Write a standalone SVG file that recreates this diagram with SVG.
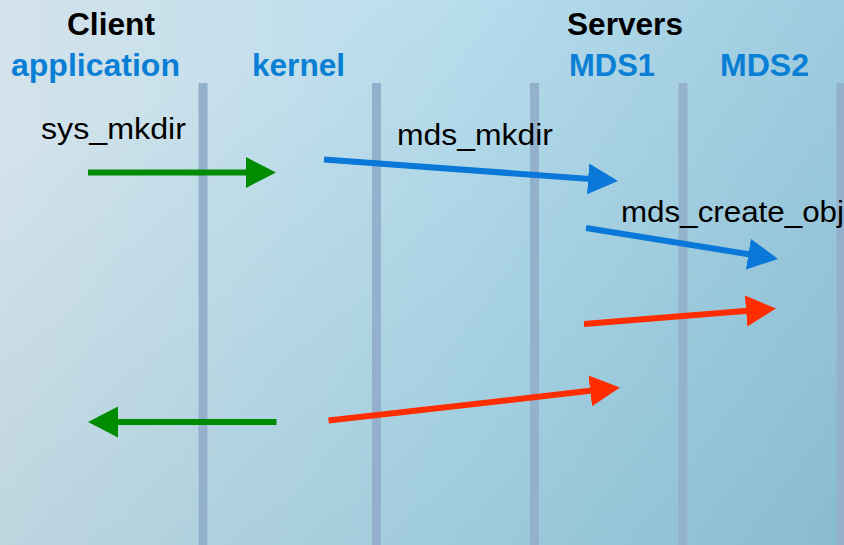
<svg xmlns="http://www.w3.org/2000/svg" width="844" height="545" viewBox="0 0 844 545">
  <defs>
    <linearGradient id="bgH" x1="0" y1="0" x2="1" y2="0">
      <stop offset="0" stop-color="#d3e2ea"/>
      <stop offset="0.55" stop-color="#b9deee"/>
      <stop offset="1" stop-color="#a7d1e5"/>
    </linearGradient>
    <linearGradient id="bgShade" x1="0.3" y1="0.1" x2="0.9" y2="1">
      <stop offset="0" stop-color="#2e7d93" stop-opacity="0"/>
      <stop offset="1" stop-color="#2e7d93" stop-opacity="0.24"/>
    </linearGradient>
    <marker id="headGreen" markerUnits="userSpaceOnUse" markerWidth="32" markerHeight="32" refX="2" refY="15.5" orient="auto">
      <path d="M0,0 L30,15.5 L0,31 Z" fill="#008c00"/>
    </marker>
    <marker id="headBlue" markerUnits="userSpaceOnUse" markerWidth="32" markerHeight="32" refX="2" refY="15.5" orient="auto">
      <path d="M0,0 L30,15.5 L0,31 Z" fill="#0a78d8"/>
    </marker>
    <marker id="headRed" markerUnits="userSpaceOnUse" markerWidth="32" markerHeight="32" refX="2" refY="15.5" orient="auto">
      <path d="M0,0 L30,15.5 L0,31 Z" fill="#ff2d00"/>
    </marker>
  </defs>
  <style>
    .lifeline { stroke: #93b1cc; stroke-width: 9; }
    .head { font-family: "Liberation Sans", Arial, sans-serif; font-weight: bold; font-size: 31px; }
    .group { fill: #000000; }
    .actor { fill: #0a7fd6; }
    .msg { font-family: "Liberation Sans", Arial, sans-serif; font-size: 29px; fill: #000000; }
    .arrow { fill: none; stroke-width: 6; }
    .green { stroke: #008c00; marker-end: url(#headGreen); }
    .blue { stroke: #0a78d8; marker-end: url(#headBlue); }
    .red { stroke: #ff2d00; marker-end: url(#headRed); }
  </style>

  <!-- background -->
  <rect x="0" y="0" width="844" height="545" fill="url(#bgH)"/>
  <rect x="0" y="0" width="844" height="545" fill="url(#bgShade)"/>

  <!-- group headings -->
  <text class="head group" x="67" y="34.5" textLength="88" lengthAdjust="spacingAndGlyphs">Client</text>
  <text class="head group" x="567" y="34.5" textLength="116" lengthAdjust="spacingAndGlyphs">Servers</text>

  <!-- participants with lifelines -->
  <g id="application">
    <line class="lifeline" x1="203" y1="83" x2="203" y2="545"/>
    <text class="head actor" x="11" y="76" textLength="169" lengthAdjust="spacingAndGlyphs">application</text>
  </g>
  <g id="kernel">
    <line class="lifeline" x1="376.5" y1="83" x2="376.5" y2="545"/>
    <text class="head actor" x="252" y="76" textLength="93" lengthAdjust="spacingAndGlyphs">kernel</text>
  </g>
  <g id="mds1">
    <line class="lifeline" x1="534.5" y1="83" x2="534.5" y2="545"/>
    <text class="head actor" x="569" y="76" textLength="86" lengthAdjust="spacingAndGlyphs">MDS1</text>
  </g>
  <g id="mds2">
    <line class="lifeline" x1="683" y1="83" x2="683" y2="545"/>
    <text class="head actor" x="720" y="76" textLength="89" lengthAdjust="spacingAndGlyphs">MDS2</text>
  </g>
  <g id="edge-lifeline">
    <line class="lifeline" x1="841" y1="83" x2="841" y2="545"/>
  </g>

  <!-- messages -->
  <g id="connectors">
    <line class="arrow green" x1="88" y1="172.5" x2="248" y2="172.5"/>
    <line class="arrow blue" x1="324" y1="159.5" x2="590.1" y2="179"/>
    <line class="arrow blue" x1="586" y1="228" x2="750.4" y2="254.5"/>
    <line class="arrow red" x1="584" y1="324" x2="748.1" y2="310.8"/>
    <line class="arrow red" x1="328.5" y1="420.5" x2="592.2" y2="390.6"/>
    <line class="arrow green" x1="276.5" y1="422" x2="116" y2="422"/>
  </g>

  <!-- message labels -->
  <text class="msg" x="41" y="139" textLength="145" lengthAdjust="spacingAndGlyphs">sys_mkdir</text>
  <text class="msg" x="397" y="145" textLength="156" lengthAdjust="spacingAndGlyphs">mds_mkdir</text>
  <text class="msg" x="621" y="222" textLength="223" lengthAdjust="spacingAndGlyphs">mds_create_obj</text>
</svg>
